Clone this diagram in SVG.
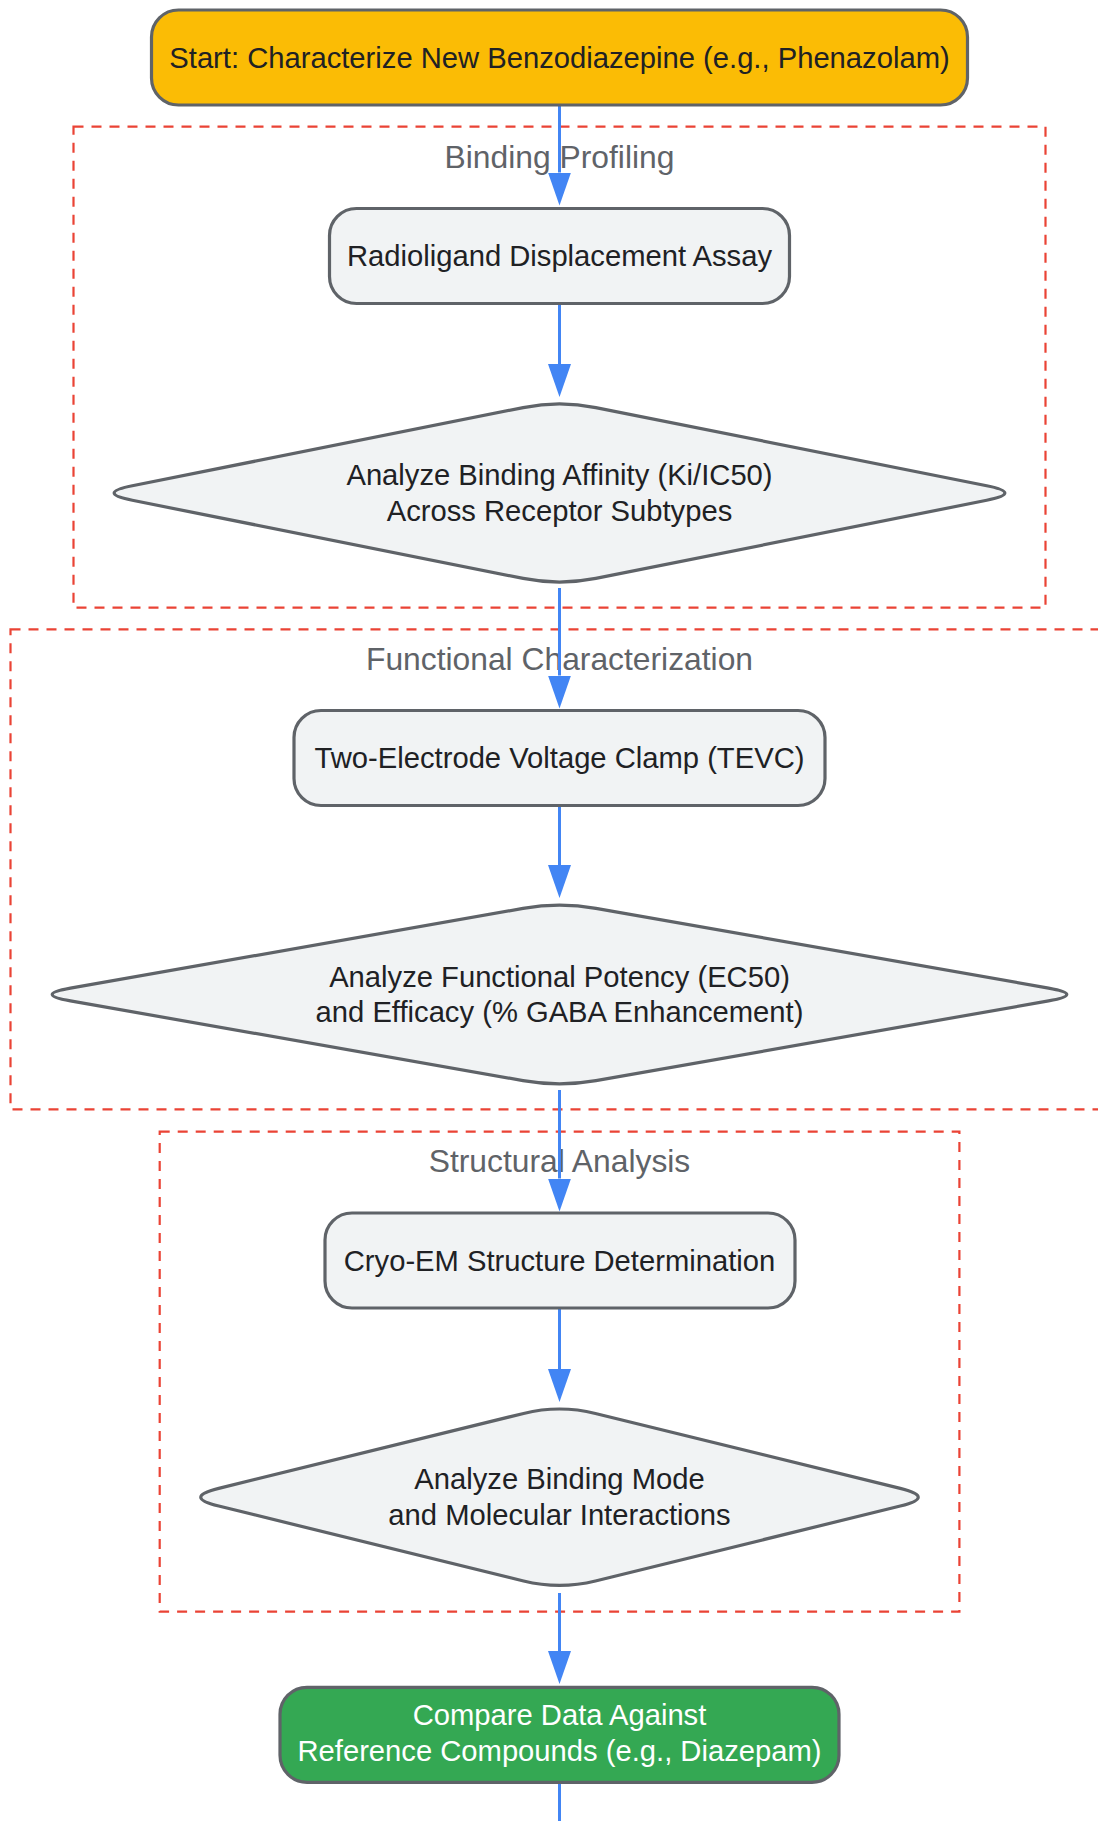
<svg xmlns="http://www.w3.org/2000/svg" width="1098" height="1821" viewBox="0 0 1098 1821">
<style>
.cluster{fill:none;stroke:#EA4335;stroke-width:2.2;stroke-dasharray:10 8}
.clabel{font-family:"Liberation Sans",Arial,sans-serif;font-size:31.8px;fill:#5f6368;text-anchor:middle}
.node{fill:#F1F3F4;stroke:#5f6368;stroke-width:3.2}
.t{font-family:"Liberation Sans",Arial,sans-serif;font-size:29.2px;fill:#202124;text-anchor:middle}
.edge{stroke:#4285F4;stroke-width:3;fill:none}
</style>
<defs>
<marker id="arr" viewBox="0 0 33 23" refX="0" refY="11.5" markerWidth="33" markerHeight="23" markerUnits="userSpaceOnUse" orient="auto">
<path d="M0,0 L33,11.5 L0,23 Z" fill="#4285F4"/>
</marker>
</defs>
<g id="clusters">
<g id="cluster-binding"><rect class="cluster" x="73.5" y="126.7" width="972" height="481"/><text class="clabel" x="559.5" y="167.5">Binding Profiling</text></g>
<g id="cluster-functional"><rect class="cluster" x="10.5" y="629.3" width="1098" height="480"/><text class="clabel" x="559.5" y="670">Functional Characterization</text></g>
<g id="cluster-structural"><rect class="cluster" x="159.7" y="1131.7" width="799.7" height="480"/><text class="clabel" x="559.5" y="1172">Structural Analysis</text></g>
</g>
<g id="connectors">
<line class="edge" x1="559.5" y1="106" x2="559.5" y2="172.5" marker-end="url(#arr)"/>
<line class="edge" x1="559.5" y1="304" x2="559.5" y2="364" marker-end="url(#arr)"/>
<line class="edge" x1="559.5" y1="588" x2="559.5" y2="675.5" marker-end="url(#arr)"/>
<line class="edge" x1="559.5" y1="806" x2="559.5" y2="865" marker-end="url(#arr)"/>
<line class="edge" x1="559.5" y1="1090" x2="559.5" y2="1178.5" marker-end="url(#arr)"/>
<line class="edge" x1="559.5" y1="1308" x2="559.5" y2="1369" marker-end="url(#arr)"/>
<line class="edge" x1="559.5" y1="1593" x2="559.5" y2="1651" marker-end="url(#arr)"/>
<line class="edge" x1="559.5" y1="1783" x2="559.5" y2="1821"/>
</g>
<g id="node-start"><rect x="151.5" y="10" width="816" height="95" rx="27" fill="#FBBC05" stroke="#5f6368" stroke-width="3.2"/><text class="t" x="559.5" y="68">Start: Characterize New Benzodiazepine (e.g., Phenazolam)</text></g>
<g id="node-radioligand"><rect class="node" x="329.5" y="208.5" width="460" height="95" rx="27"/><text class="t" x="559.5" y="266">Radioligand Displacement Assay</text></g>
<g id="node-affinity"><path class="node" d="M595.8 407.56 L986.7 485.74 Q1023 493 986.7 500.26 L595.8 578.44 Q559.5 585.7 523.2 578.44 L132.3 500.26 Q96 493 132.3 485.74 L523.2 407.56 Q559.5 400.3 595.8 407.56 Z"/><text class="t" x="559.5" y="485">Analyze Binding Affinity (Ki/IC50)</text><text class="t" x="559.5" y="520.5">Across Receptor Subtypes</text></g>
<g id="node-tevc"><rect class="node" x="294" y="710.5" width="531" height="95" rx="27"/><text class="t" x="559.5" y="768">Two-Electrode Voltage Clamp (TEVC)</text></g>
<g id="node-potency"><path class="node" d="M595.94 908.41 L1048.56 988.09 Q1085 994.5 1048.56 1000.91 L595.94 1080.59 Q559.5 1087 523.06 1080.59 L70.44 1000.91 Q34 994.5 70.44 988.09 L523.06 908.41 Q559.5 902 595.94 908.41 Z"/><text class="t" x="559.5" y="986.5">Analyze Functional Potency (EC50)</text><text class="t" x="559.5" y="1022">and Efficacy (% GABA Enhancement)</text></g>
<g id="node-cryoem"><rect class="node" x="325" y="1213" width="470" height="95" rx="27"/><text class="t" x="559.5" y="1270.5">Cryo-EM Structure Determination</text></g>
<g id="node-bindingmode"><path class="node" d="M595.43 1413.43 L900.27 1488.37 Q936.2 1497.2 900.27 1506.03 L595.43 1580.97 Q559.5 1589.8 523.57 1580.97 L218.73 1506.03 Q182.8 1497.2 218.73 1488.37 L523.57 1413.43 Q559.5 1404.6 595.43 1413.43 Z"/><text class="t" x="559.5" y="1489">Analyze Binding Mode</text><text class="t" x="559.5" y="1524.5">and Molecular Interactions</text></g>
<g id="node-compare"><rect x="280" y="1687.3" width="559" height="95" rx="27" fill="#34A853" stroke="#5f6368" stroke-width="3.2"/><text class="t" x="559.5" y="1725" style="fill:#ffffff">Compare Data Against</text><text class="t" x="559.5" y="1761" style="fill:#ffffff">Reference Compounds (e.g., Diazepam)</text></g>
</svg>
